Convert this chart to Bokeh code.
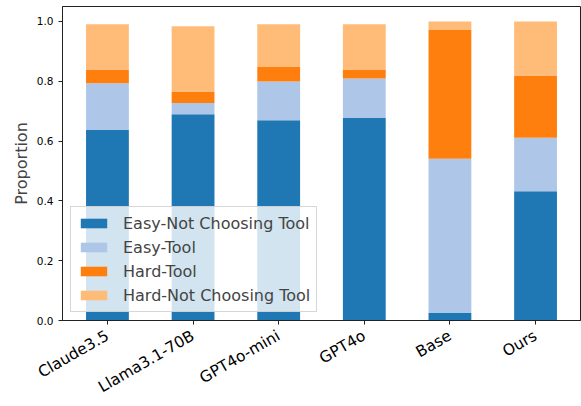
import math
from bokeh.plotting import figure
from bokeh.models import Range1d, FixedTicker, Legend, LegendItem, ColumnDataSource
from bokeh.embed import file_html
from bokeh.resources import INLINE

models = ["Claude3.5", "Llama3.1-70B", "GPT4o-mini", "GPT4o", "Base", "Ours"]
series = ["Easy-Not Choosing Tool", "Easy-Tool", "Hard-Tool", "Hard-Not Choosing Tool"]
easy_not = [0.637, 0.690, 0.670, 0.677, 0.025, 0.432]
easy_tool = [0.156, 0.037, 0.129, 0.132, 0.516, 0.179]
hard_tool = [0.046, 0.039, 0.050, 0.030, 0.430, 0.208]
hard_not = [0.152, 0.218, 0.142, 0.152, 0.029, 0.181]
y_ticks = [0.0, 0.2, 0.4, 0.6, 0.8, 1.0]

colors = ["#1f77b4", "#aec7e8", "#ff7f0e", "#ffbb78"]
FONT = "DejaVu Sans"

xs = list(range(len(models)))
data = dict(x=xs)
keys = ["en", "et", "ht", "hn"]
for k, v in zip(keys, [easy_not, easy_tool, hard_tool, hard_not]):
    data[k] = v
src = ColumnDataSource(data)

p = figure(width=581, height=406,
           x_range=Range1d(-0.525, len(models) - 0.475), y_range=Range1d(0, 1.05),
           output_backend="svg", toolbar_location=None,
           min_border_left=62, min_border_right=1, min_border_top=6, min_border_bottom=79)

renderers = p.vbar_stack(keys, x="x", width=0.5, source=src, color=colors, line_width=0)

p.xgrid.visible = False
p.ygrid.visible = False
p.outline_line_color = "#222222"
p.outline_line_width = 1
p.background_fill_color = "white"
p.border_fill_color = "white"

for ax in (p.xaxis[0], p.yaxis[0]):
    ax.axis_line_color = "#222222"
    ax.major_tick_line_color = "#222222"
    ax.major_tick_out = 4
    ax.major_tick_in = 0
    ax.minor_tick_line_color = None
    ax.major_label_text_font = FONT
    ax.major_label_text_color = "black"

p.xaxis.ticker = FixedTicker(ticks=xs)
p.xaxis.major_label_overrides = {i: m for i, m in zip(xs, models)}
p.xaxis.major_label_orientation = math.pi / 6
p.xaxis.major_label_text_font_size = "15.5px"
p.xaxis.major_label_standoff = 10

p.yaxis.ticker = FixedTicker(ticks=y_ticks)
p.yaxis.major_label_overrides = {t: f"{t:.1f}" for t in y_ticks}
p.yaxis.major_label_text_font_size = "10.5px"
p.yaxis.major_label_standoff = 5
p.yaxis.axis_label = "Proportion"
p.yaxis.axis_label_text_font = FONT
p.yaxis.axis_label_text_font_size = "16px"
p.yaxis.axis_label_text_font_style = "normal"
p.yaxis.axis_label_standoff = 3

legend = Legend(items=[LegendItem(label=s, renderers=[r]) for s, r in zip(series, renderers)],
                location=(8, 8))
legend.label_text_font = FONT
legend.label_text_font_size = "16px"
legend.glyph_width = 33
legend.glyph_height = 12
legend.label_height = 20
legend.label_standoff = 13
legend.spacing = 4
legend.padding = 6
legend.margin = 0
legend.background_fill_alpha = 0.8
legend.border_line_color = "#cccccc"
legend.border_line_alpha = 0.8
p.add_layout(legend, "center")

open("out.html", "w").write(file_html(p, INLINE))
